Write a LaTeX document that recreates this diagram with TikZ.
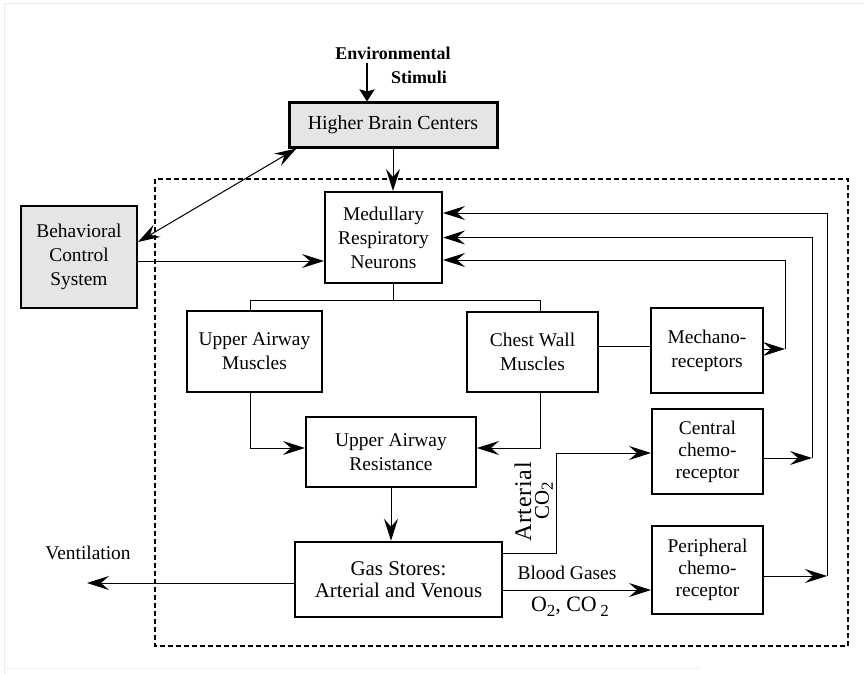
\documentclass[tikz,border=0pt]{standalone}
\usepackage{fontspec}
\setmainfont{Liberation Serif}
\usetikzlibrary{arrows.meta}
\newcommand{\mysubtwo}[1]{\raisebox{-#1}{\fontsize{17}{17}\selectfont 2}}
\begin{document}
\begin{tikzpicture}[x=1bp,y=-1bp,
  font=\fontsize{19.5}{24}\selectfont,
  >={Stealth[length=22bp,width=14bp,inset=8bp]},
  box/.style={draw, line width=2bp, align=center, inner sep=0pt},
  chemo/.style={box, font=\fontsize{19.5}{22}\selectfont},
  conn/.style={line width=1bp},
  shaded/.style={fill=gray!20}]
\useasboundingbox (0,0) rectangle (864,674);
% faint scan frame
\draw[gray!15, line width=1bp] (4,674) -- (4,4) -- (864,4);
\draw[gray!10, line width=1bp] (4,668) -- (700,668);
% dashed enclosure
\draw[line width=1.1bp, dash pattern=on 5bp off 3bp] (155,179) rectangle (848,646);

% boxes
\node[box, shaded, line width=3bp, minimum width=208bp, minimum height=44bp, font=\fontsize{20}{24}\selectfont] (hbc) at (393,125) {Higher Brain Centers};
\node[box, shaded, minimum width=116bp, minimum height=102bp] (bcs) at (79,257) {Behavioral\\Control\\System};
\node[box, minimum width=117bp, minimum height=91bp] (med) at (383.5,237.5) {Medullary\\Respiratory\\Neurons};
\node[box, minimum width=135bp, minimum height=81bp] (uam) at (254.5,351.5) {Upper Airway\\Muscles};
\node[box, minimum width=131bp, minimum height=80bp] (cwm) at (532.5,352) {Chest Wall\\Muscles};
\node[box, minimum width=112bp, minimum height=85bp] (mech) at (707,350.5) {Mechano-\\receptors};
\node[box, minimum width=170bp, minimum height=70bp] (uar) at (391,452) {Upper Airway\\Resistance};
\node[box, line width=2.5bp, minimum width=207bp, minimum height=75bp, font=\fontsize{21}{22}\selectfont] (gas) at (398.5,579.5) {Gas Stores:\\Arterial and Venous};
\node[chemo, minimum width=111bp, minimum height=85bp] (cen) at (707.5,451.5) {Central\\chemo-\\receptor};
\node[chemo, minimum width=111bp, minimum height=88bp] (per) at (707.5,570) {Peripheral\\chemo-\\receptor};

% environmental stimuli
\node[font=\bfseries\fontsize{18}{20}\selectfont] (env) at (393,53) {Environmental};
\node[font=\bfseries\fontsize{18}{20}\selectfont] (stim) at (419,77) {Stimuli};
\coordinate (envtop) at (367,63);
\draw[line width=2.5bp, -{Stealth[length=12bp,width=15bp,inset=2bp]}] (envtop) -- (envtop |- hbc.north);

% top connections
\draw[conn,->] (hbc.south) -- (hbc.south |- med.north);
\draw[conn,<->] ([yshift=15bp]bcs.east) -- ([xshift=9bp]hbc.south west);
\draw[conn,->] ([yshift=-4bp]bcs.east) -- ([yshift=-4bp]bcs.east -| med.west);

% split to muscles
\coordinate (s0) at (393,300);
\coordinate (s1) at (250,300);
\coordinate (s2) at (540,300);
\draw[conn] (hbc.south |- med.south) -- (s0);
\draw[conn] (s1 |- uam.north) -- (s1) -- (s2) -- (s2 |- cwm.north);

% muscles to resistance
\draw[conn,->] (s1 |- uam.south) |- ([yshift=4bp]uar.west);
\draw[conn,->] (s2 |- cwm.south) |- ([yshift=4bp]uar.east);
\draw[conn,->] (uar.south) -- (uar.south |- gas.north);
\draw[conn] ([yshift=6bp]cwm.east) -- ([yshift=6bp]cwm.east -| mech.west);

% ventilation
\coordinate (vent) at (87,583);
\draw[conn,->] (gas.west |- vent) -- (vent);
\node (ventl) at (88,553) {Ventilation};

% arterial CO2 to central
\coordinate (ac) at (556,553);
\draw[conn,->] (gas.east |- ac) -- (ac) |- ([yshift=-1.5bp]cen.west);
\node[rotate=90, font=\addfontfeature{LetterSpace=3}\fontsize{24}{26}\selectfont] (art) at (523,502) {Arterial};
\node[rotate=90, font=\fontsize{21}{24}\selectfont] (co2) at (544,501) {CO\mysubtwo{4bp}};

% blood gases to peripheral
\coordinate (bg) at (600,590);
\draw[conn,->] (gas.east |- bg) -- (per.west |- bg);
\node (bgl) at (567,573) {Blood Gases};
\node[font=\fontsize{22}{24}\selectfont] (o2) at (570,607) {O\mysubtwo{5bp}, CO\,\mysubtwo{5bp}};

% feedback loops
\coordinate (m1) at (785,349);
\coordinate (c1) at (812,458);
\coordinate (p1) at (827,576);
\draw[conn,->] (mech.east |- m1) -- (m1);
\draw[conn,->] (m1) |- ([yshift=-22.5bp]med.east);
\draw[conn,->] (cen.east |- c1) -- (c1);
\draw[conn,->] (c1) |- (med.east);
\draw[conn,->] (per.east |- p1) -- (p1);
\draw[conn,->] (p1) |- ([yshift=24.5bp]med.east);
\end{tikzpicture}
\end{document}
